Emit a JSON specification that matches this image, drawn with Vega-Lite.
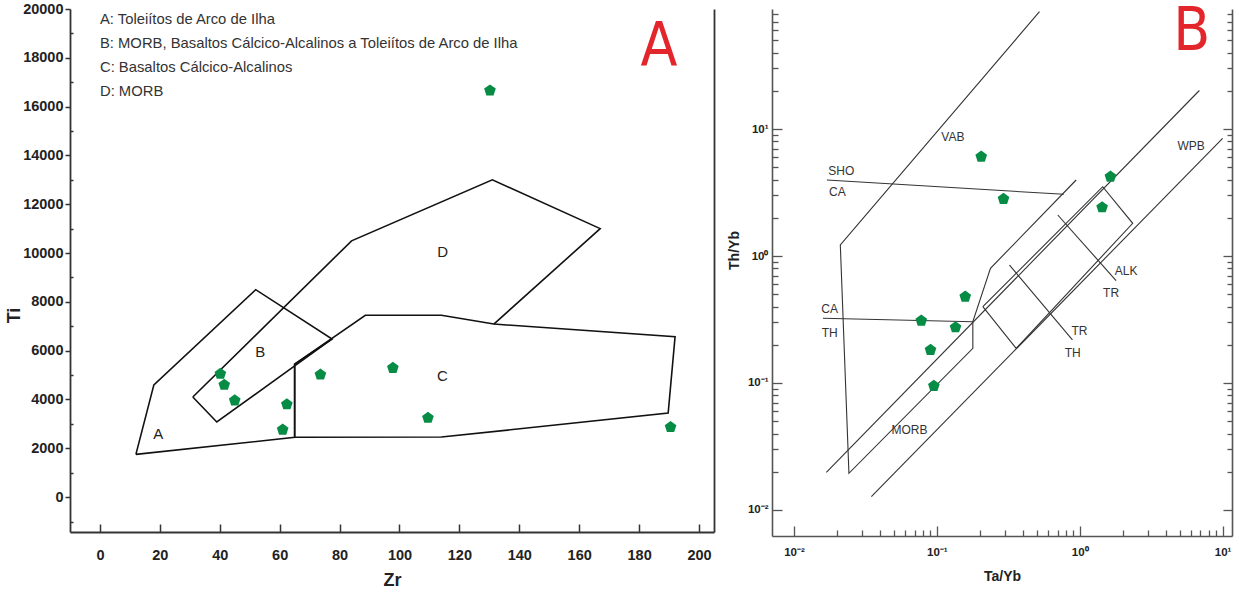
{
  "$schema": "https://vega.github.io/schema/vega-lite/v6.json",
  "background": "white",
  "padding": {"left": 5, "top": 1, "right": 5, "bottom": 0},
  "bounds": "flush",
  "spacing": 58,
  "config": {
    "view": {"stroke": null},
    "axis": {"grid": false, "labelOverlap": false, "labelFlush": false, "domainColor": "#333", "tickColor": "#333", "labelColor": "#222", "titleColor": "#222", "labelFont": "Liberation Sans", "titleFont": "Liberation Sans"}
  },
  "datasets": {
    "linesA": [
      {"seg": "A", "ord": 1, "Zr": 12, "Ti": 1750},
      {"seg": "A", "ord": 2, "Zr": 18, "Ti": 4600},
      {"seg": "A", "ord": 3, "Zr": 52, "Ti": 8500},
      {"seg": "A", "ord": 4, "Zr": 77.5, "Ti": 6480},
      {"seg": "A", "ord": 5, "Zr": 65, "Ti": 5450},
      {"seg": "A", "ord": 6, "Zr": 65, "Ti": 2450},
      {"seg": "A", "ord": 7, "Zr": 12, "Ti": 1750},
      {"seg": "B", "ord": 1, "Zr": 31, "Ti": 4100},
      {"seg": "B", "ord": 2, "Zr": 39, "Ti": 3080},
      {"seg": "B", "ord": 3, "Zr": 77.5, "Ti": 6480},
      {"seg": "D", "ord": 1, "Zr": 31, "Ti": 4100},
      {"seg": "D", "ord": 2, "Zr": 84, "Ti": 10500},
      {"seg": "D", "ord": 3, "Zr": 131, "Ti": 13000},
      {"seg": "D", "ord": 4, "Zr": 167, "Ti": 11000},
      {"seg": "D", "ord": 5, "Zr": 131.5, "Ti": 7090},
      {"seg": "C", "ord": 1, "Zr": 65, "Ti": 2450},
      {"seg": "C", "ord": 2, "Zr": 65, "Ti": 5450},
      {"seg": "C", "ord": 3, "Zr": 88.6, "Ti": 7450},
      {"seg": "C", "ord": 4, "Zr": 114, "Ti": 7450},
      {"seg": "C", "ord": 5, "Zr": 131.5, "Ti": 7090},
      {"seg": "C", "ord": 6, "Zr": 192, "Ti": 6570},
      {"seg": "C", "ord": 7, "Zr": 189.7, "Ti": 3440},
      {"seg": "C", "ord": 8, "Zr": 114, "Ti": 2460},
      {"seg": "C", "ord": 9, "Zr": 65, "Ti": 2450}
    ],
    "pointsA": [
      {"Zr": 40.2, "Ti": 5050}, {"Zr": 41.5, "Ti": 4600}, {"Zr": 45, "Ti": 3960},
      {"Zr": 61, "Ti": 2760}, {"Zr": 62.4, "Ti": 3800}, {"Zr": 73.6, "Ti": 5020},
      {"Zr": 97.8, "Ti": 5290}, {"Zr": 109.5, "Ti": 3250}, {"Zr": 190.5, "Ti": 2870},
      {"Zr": 130.2, "Ti": 16660}
    ],
    "regionsA": [
      {"t": "A", "Zr": 19.5, "Ti": 2600},
      {"t": "B", "Zr": 53.5, "Ti": 5960},
      {"t": "C", "Zr": 114.3, "Ti": 4950},
      {"t": "D", "Zr": 114.4, "Ti": 10045}
    ],
    "legendA": [
      {"t": "A: Toleiítos de Arco de Ilha", "Zr": 0, "Ti": 19560},
      {"t": "B: MORB, Basaltos Cálcico-Alcalinos a Toleiítos de Arco de Ilha", "Zr": 0, "Ti": 18580},
      {"t": "C: Basaltos Cálcico-Alcalinos", "Zr": 0, "Ti": 17600},
      {"t": "D: MORB", "Zr": 0, "Ti": 16580}
    ],
    "bigA": [{"t": "A", "Zr": 186.6, "Ti": 17712}],
    "linesB": [
      {"seg": "VAB", "ord": 1, "TaYb": 0.5228, "ThYb": 83.9},
      {"seg": "VAB", "ord": 2, "TaYb": 0.02111, "ThYb": 1.221},
      {"seg": "VAB", "ord": 3, "TaYb": 0.02425, "ThYb": 0.01945},
      {"seg": "VAB", "ord": 4, "TaYb": 0.1786, "ThYb": 0.1876},
      {"seg": "VAB", "ord": 5, "TaYb": 0.1786, "ThYb": 0.3039},
      {"seg": "VAB", "ord": 6, "TaYb": 0.2373, "ThYb": 0.8},
      {"seg": "VAB", "ord": 7, "TaYb": 0.9437, "ThYb": 3.967},
      {"seg": "L1", "ord": 1, "TaYb": 0.01685, "ThYb": 0.0198},
      {"seg": "L1", "ord": 2, "TaYb": 6.871, "ThYb": 20.1},
      {"seg": "L3", "ord": 1, "TaYb": 0.0348, "ThYb": 0.01273},
      {"seg": "L3", "ord": 2, "TaYb": 10.0, "ThYb": 8.45},
      {"seg": "BOX", "ord": 1, "TaYb": 0.2098, "ThYb": 0.399},
      {"seg": "BOX", "ord": 2, "TaYb": 1.448, "ThYb": 3.513},
      {"seg": "BOX", "ord": 3, "TaYb": 2.348, "ThYb": 1.809},
      {"seg": "BOX", "ord": 4, "TaYb": 0.359, "ThYb": 0.1876},
      {"seg": "BOX", "ord": 5, "TaYb": 0.2098, "ThYb": 0.399},
      {"seg": "T1", "ord": 1, "TaYb": 0.3224, "ThYb": 0.849},
      {"seg": "T1", "ord": 2, "TaYb": 0.889, "ThYb": 0.2182},
      {"seg": "T2", "ord": 1, "TaYb": 0.7018, "ThYb": 2.103},
      {"seg": "T2", "ord": 2, "TaYb": 1.796, "ThYb": 0.641},
      {"seg": "SHO", "ord": 1, "TaYb": 0.01701, "ThYb": 3.967},
      {"seg": "SHO", "ord": 2, "TaYb": 0.7728, "ThYb": 3.06},
      {"seg": "CATH", "ord": 1, "TaYb": 0.01595, "ThYb": 0.3231},
      {"seg": "CATH", "ord": 2, "TaYb": 0.1786, "ThYb": 0.3039}
    ],
    "pointsB": [
      {"TaYb": 0.2044, "ThYb": 6.05}, {"TaYb": 0.2927, "ThYb": 2.811},
      {"TaYb": 1.64, "ThYb": 4.211}, {"TaYb": 1.434, "ThYb": 2.418},
      {"TaYb": 0.158, "ThYb": 0.478}, {"TaYb": 0.0778, "ThYb": 0.3095},
      {"TaYb": 0.1351, "ThYb": 0.2746}, {"TaYb": 0.0903, "ThYb": 0.1819},
      {"TaYb": 0.0953, "ThYb": 0.0947}
    ],
    "labelsB": [
      {"t": "VAB", "TaYb": 0.1294, "ThYb": 8.6},
      {"t": "SHO", "TaYb": 0.02145, "ThYb": 4.695},
      {"t": "CA", "TaYb": 0.02011, "ThYb": 3.174},
      {"t": "WPB", "TaYb": 6.012, "ThYb": 7.389},
      {"t": "ALK", "TaYb": 2.111, "ThYb": 0.766},
      {"t": "TR", "TaYb": 1.658, "ThYb": 0.514},
      {"t": "CA", "TaYb": 0.01777, "ThYb": 0.3804},
      {"t": "TH", "TaYb": 0.01777, "ThYb": 0.2462},
      {"t": "TR", "TaYb": 0.995, "ThYb": 0.258},
      {"t": "TH", "TaYb": 0.893, "ThYb": 0.1733},
      {"t": "MORB", "TaYb": 0.0644, "ThYb": 0.0427}
    ],
    "bigB": [{"t": "B", "TaYb": 6.09, "ThYb": 41.9}]
  },
  "hconcat": [
    {
      "width": 644,
      "height": 523,
      "resolve": {"axis": {"y": "independent"}},
      "layer": [
        {
          "data": {"name": "linesA"},
          "mark": {"type": "line", "stroke": "#111", "strokeWidth": 1.6},
          "encoding": {
            "x": {"field": "Zr", "type": "quantitative", "scale": {"domain": [-10, 205], "nice": false, "zero": false},
              "axis": {"title": "Zr", "values": [0, 10, 20, 30, 40, 50, 60, 70, 80, 90, 100, 110, 120, 130, 140, 150, 160, 170, 180, 190, 200],
                "labelExpr": "datum.value % 20 == 0 ? '' + datum.value : ''",
                "tickSize": {"condition": {"test": "datum.value % 20 != 0", "value": -4}, "value": -8},
                "labelPadding": 24, "labelFontSize": 14.5, "labelFontWeight": "bold",
                "titleFontSize": 18, "titleFontWeight": "bold", "titlePadding": 10,
                "domainWidth": 1.8, "tickWidth": 1.5}},
            "y": {"field": "Ti", "type": "quantitative", "scale": {"domain": [-1430, 20000], "nice": false, "zero": false},
              "axis": {"title": "Ti", "values": [-1000, 0, 1000, 2000, 3000, 4000, 5000, 6000, 7000, 8000, 9000, 10000, 11000, 12000, 13000, 14000, 15000, 16000, 17000, 18000, 19000, 20000],
                "labelExpr": "datum.value % 2000 == 0 ? '' + datum.value : ''",
                "tickSize": {"condition": {"test": "datum.value % 2000 != 0", "value": -3}, "value": 5},
                "labelPadding": 2, "labelFontSize": 14.5, "labelFontWeight": "bold",
                "titleFontSize": 18, "titleFontWeight": "bold", "titlePadding": -1, "titleY": 306,
                "domainWidth": 1.8, "tickWidth": 1.5}},
            "detail": {"field": "seg"},
            "order": {"field": "ord"}
          }
        },
        {
          "data": {"name": "pointsA"},
          "mark": {"type": "point", "shape": "M0,-1L0.951,-0.309L0.588,0.809L-0.588,0.809L-0.951,-0.309Z", "filled": true, "color": "#078c46", "opacity": 1, "size": 150},
          "encoding": {
            "x": {"field": "Zr", "type": "quantitative", "scale": {"domain": [-10, 205], "nice": false, "zero": false}},
            "y": {"field": "Ti", "type": "quantitative", "scale": {"domain": [-1430, 20000], "nice": false, "zero": false}, "axis": null}
          }
        },
        {
          "data": {"name": "regionsA"},
          "mark": {"type": "text", "fontSize": 15, "font": "Liberation Sans", "color": "#222", "align": "center", "baseline": "middle"},
          "encoding": {
            "x": {"field": "Zr", "type": "quantitative", "scale": {"domain": [-10, 205], "nice": false, "zero": false}},
            "y": {"field": "Ti", "type": "quantitative", "scale": {"domain": [-1430, 20000], "nice": false, "zero": false}, "axis": null},
            "text": {"field": "t"}
          }
        },
        {
          "data": {"name": "legendA"},
          "mark": {"type": "text", "fontSize": 14.8, "font": "Liberation Sans", "color": "#333", "align": "left", "baseline": "middle"},
          "encoding": {
            "x": {"field": "Zr", "type": "quantitative", "scale": {"domain": [-10, 205], "nice": false, "zero": false}},
            "y": {"field": "Ti", "type": "quantitative", "scale": {"domain": [-1430, 20000], "nice": false, "zero": false}, "axis": null},
            "text": {"field": "t"}
          }
        },
        {
          "data": {"name": "bigA"},
          "mark": {"type": "text", "fontSize": 60, "font": "Liberation Sans Narrow, DejaVu Sans Condensed, Liberation Sans", "color": "#e2262b", "align": "center", "baseline": "alphabetic"},
          "encoding": {
            "x": {"field": "Zr", "type": "quantitative", "scale": {"domain": [-10, 205], "nice": false, "zero": false}},
            "y": {"field": "Ti", "type": "quantitative", "scale": {"domain": [-1430, 20000], "nice": false, "zero": false},
              "axis": {"orient": "right", "title": null, "labels": false, "ticks": false, "domain": true, "domainWidth": 1.8}},
            "text": {"field": "t"}
          }
        }
      ]
    },
    {
      "width": 460,
      "height": 527,
      "resolve": {"axis": {"y": "independent"}},
      "layer": [
        {
          "data": {"name": "linesB"},
          "mark": {"type": "line", "stroke": "#333", "strokeWidth": 1.1},
          "encoding": {
            "x": {"field": "TaYb", "type": "quantitative", "scale": {"type": "log", "domain": [0.00702, 11.63], "nice": false},
              "axis": {"title": "Ta/Yb", "values": [0.01, 0.02, 0.03, 0.04, 0.05, 0.06, 0.07, 0.08, 0.09, 0.1, 0.2, 0.3, 0.4, 0.5, 0.6, 0.7, 0.8, 0.9, 1, 2, 3, 4, 5, 6, 7, 8, 9, 10],
                "labelExpr": "abs(log(datum.value)/LN10 - round(log(datum.value)/LN10)) < 0.01 ? ['10⁻²','10⁻¹','10⁰','10¹'][round(log(datum.value)/LN10) + 2] : ''",
                "tickSize": {"condition": {"test": "abs(log(datum.value)/LN10 - round(log(datum.value)/LN10)) > 0.01", "value": -6}, "value": -10},
                "labelPadding": 20, "labelFontSize": 11.5, "labelFontWeight": "bold",
                "titleFontSize": 14, "titleFontWeight": "bold", "titlePadding": 8,
                "domainWidth": 1.6, "tickWidth": 1.3, "domainColor": "#555", "tickColor": "#555"}},
            "y": {"field": "ThYb", "type": "quantitative", "scale": {"type": "log", "domain": [0.00624, 88.1], "nice": false},
              "axis": {"title": "Th/Yb", "values": [0.01, 0.02, 0.03, 0.04, 0.05, 0.06, 0.07, 0.08, 0.09, 0.1, 0.2, 0.3, 0.4, 0.5, 0.6, 0.7, 0.8, 0.9, 1, 2, 3, 4, 5, 6, 7, 8, 9, 10, 20, 30, 40, 50, 60, 70, 80],
                "labelExpr": "abs(log(datum.value)/LN10 - round(log(datum.value)/LN10)) < 0.01 ? ['10⁻²','10⁻¹','10⁰','10¹'][round(log(datum.value)/LN10) + 2] : ''",
                "tickSize": {"condition": {"test": "abs(log(datum.value)/LN10 - round(log(datum.value)/LN10)) > 0.01", "value": -6}, "value": -10},
                "labelPadding": 14, "labelFontSize": 11.5, "labelFontWeight": "bold",
                "titleFontSize": 14, "titleFontWeight": "bold", "titlePadding": 6, "titleY": 241,
                "domainWidth": 1.6, "tickWidth": 1.3, "domainColor": "#555", "tickColor": "#555"}},
            "detail": {"field": "seg"},
            "order": {"field": "ord"}
          }
        },
        {
          "data": {"name": "pointsB"},
          "mark": {"type": "point", "shape": "M0,-1L0.951,-0.309L0.588,0.809L-0.588,0.809L-0.951,-0.309Z", "filled": true, "color": "#078c46", "opacity": 1, "size": 150},
          "encoding": {
            "x": {"field": "TaYb", "type": "quantitative", "scale": {"type": "log", "domain": [0.00702, 11.63], "nice": false}},
            "y": {"field": "ThYb", "type": "quantitative", "scale": {"type": "log", "domain": [0.00624, 88.1], "nice": false}, "axis": null}
          }
        },
        {
          "data": {"name": "labelsB"},
          "mark": {"type": "text", "fontSize": 12, "font": "Liberation Sans", "color": "#333", "align": "center", "baseline": "middle"},
          "encoding": {
            "x": {"field": "TaYb", "type": "quantitative", "scale": {"type": "log", "domain": [0.00702, 11.63], "nice": false}},
            "y": {"field": "ThYb", "type": "quantitative", "scale": {"type": "log", "domain": [0.00624, 88.1], "nice": false}, "axis": null},
            "text": {"field": "t"}
          }
        },
        {
          "data": {"name": "bigB"},
          "mark": {"type": "text", "fontSize": 60, "font": "Liberation Sans Narrow, DejaVu Sans Condensed, Liberation Sans", "color": "#e2262b", "align": "center", "baseline": "alphabetic"},
          "encoding": {
            "x": {"field": "TaYb", "type": "quantitative", "scale": {"type": "log", "domain": [0.00702, 11.63], "nice": false}},
            "y": {"field": "ThYb", "type": "quantitative", "scale": {"type": "log", "domain": [0.00624, 88.1], "nice": false},
              "axis": {"orient": "right", "title": null, "labels": false, "values": [0.01, 0.02, 0.03, 0.04, 0.05, 0.06, 0.07, 0.08, 0.09, 0.1, 0.2, 0.3, 0.4, 0.5, 0.6, 0.7, 0.8, 0.9, 1, 2, 3, 4, 5, 6, 7, 8, 9, 10, 20, 30, 40, 50, 60, 70, 80],
                "tickSize": {"condition": {"test": "abs(log(datum.value)/LN10 - round(log(datum.value)/LN10)) > 0.01", "value": -5}, "value": -9},
                "domainWidth": 1.6, "tickWidth": 1.3, "domainColor": "#555", "tickColor": "#555"}},
            "text": {"field": "t"}
          }
        }
      ]
    }
  ]
}
